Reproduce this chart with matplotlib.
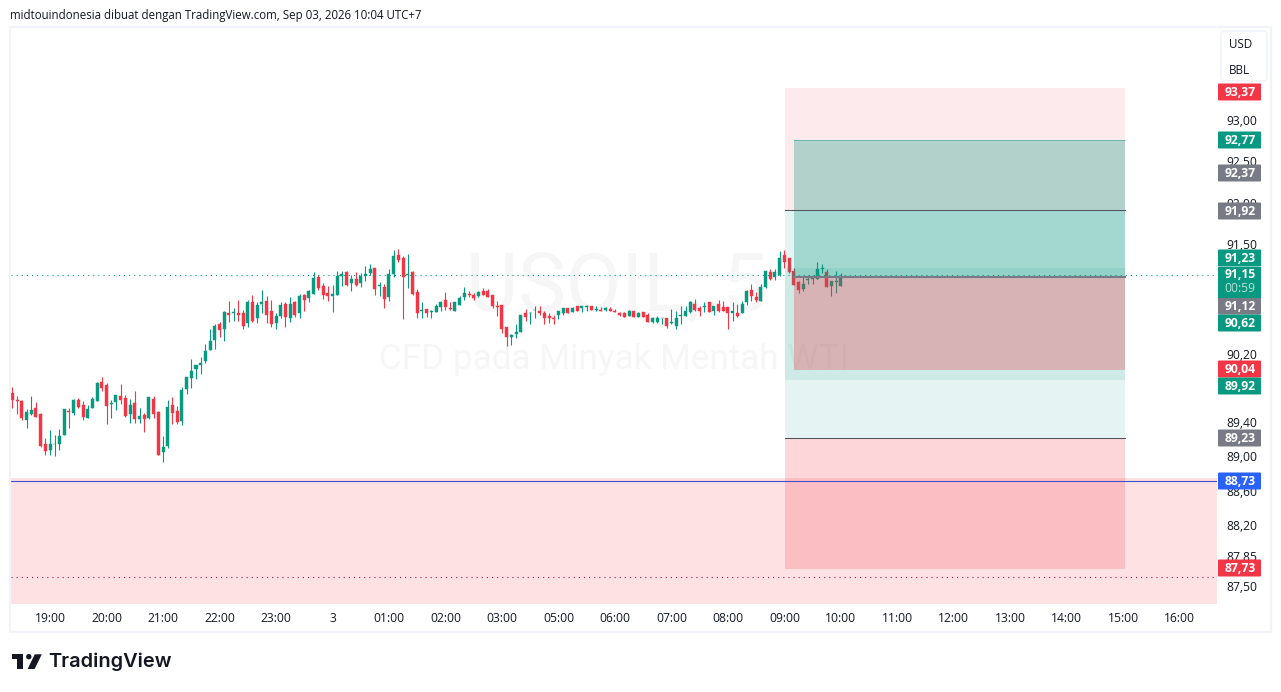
import matplotlib
matplotlib.use("Agg")
import matplotlib.pyplot as plt
from matplotlib.patches import Rectangle, FancyBboxPatch, Polygon, Circle
from matplotlib.ticker import FixedLocator, FixedFormatter, NullLocator
from matplotlib.transforms import ScaledTranslation

W, H = 1281, 692
UP, DOWN, GREY, BLUE = "#089981", "#F23645", "#787B86", "#2962FF"
INK = "#131722"
FONT = "Open Sans"
plt.rcParams["font.family"] = [FONT, "DejaVu Sans"]

# ---- candle data (prices, USD/BBL) ----
directions = ("RRRGGRRRGG" "GGRGRRGGGR" "RGGRRGRGRG" "RRGGRRGGGG" "GGGGRGRGRR"
              "GRGGRRGGRG" "RGRGGRRRGG" "GRGRGGGRGR" "GGRRGRRGRG" "GGRRGGGRRG"
              "RRRRRRGGGR" "GGRRRRGGRG" "RGGRGRGRRR" "RGRGRRGGGR" "GGGGGRRGRG"
              "RRRGRGGRRG" "GRGGRRRRGG" "GGGRGGG")
highs = [
    89.82,89.72,89.67,89.56,89.72,89.65,89.52,89.23,89.32,89.26,
    89.33,89.56,89.58,89.68,89.69,89.66,89.61,89.71,89.88,89.94,
    89.87,89.67,89.73,89.86,89.73,89.68,89.77,89.58,89.52,89.71,
    89.72,89.54,89.25,89.67,89.71,89.60,89.82,89.94,90.15,90.08,
    90.17,90.33,90.51,90.57,90.59,90.72,90.84,90.76,90.85,90.73,
    90.85,90.91,90.82,90.97,90.90,90.85,90.70,90.83,90.82,90.89,
    90.84,90.92,90.92,90.97,91.18,91.15,91.05,91.02,91.03,91.19,
    91.20,91.19,91.15,91.18,91.17,91.25,91.28,91.23,91.06,91.04,
    91.22,91.45,91.46,91.37,91.40,91.20,90.98,90.83,90.74,90.73,
    90.80,90.84,90.95,90.83,90.83,90.90,91.00,90.96,90.93,90.96,
    90.99,90.98,90.91,90.84,90.79,90.53,90.45,90.57,90.67,90.74,
    90.71,90.78,90.78,90.72,90.69,90.67,90.72,90.76,90.76,90.77,
    90.78,90.78,90.79,90.78,90.78,90.77,90.77,90.77,90.74,90.71,
    90.71,90.73,90.72,90.71,90.71,90.69,90.65,90.66,90.64,90.63,
    90.74,90.72,90.78,90.78,90.84,90.86,90.78,90.82,90.83,90.78,
    90.85,90.84,90.77,90.83,90.80,90.84,90.97,91.04,90.95,91.04,
    91.20,91.22,91.22,91.43,91.44,91.35,91.23,91.07,91.12,91.15,
    91.15,91.30,91.28,91.22,91.07,91.19,91.17]
body_tops = [
    89.75,89.67,89.66,89.53,89.55,89.58,89.51,89.16,89.15,89.16,
    89.25,89.56,89.54,89.67,89.67,89.61,89.56,89.68,89.87,89.88,
    89.85,89.64,89.73,89.72,89.69,89.61,89.64,89.48,89.49,89.71,
    89.68,89.53,89.12,89.59,89.61,89.54,89.79,89.94,90.01,90.08,
    90.10,90.25,90.36,90.54,90.57,90.71,90.69,90.71,90.69,90.69,
    90.82,90.83,90.79,90.82,90.84,90.72,90.66,90.79,90.80,90.80,
    90.83,90.90,90.91,90.96,91.11,91.12,91.02,90.93,90.92,91.13,
    91.16,91.18,91.10,91.10,91.13,91.16,91.22,91.23,91.03,91.00,
    91.16,91.37,91.38,91.35,91.16,91.18,90.95,90.73,90.74,90.72,
    90.78,90.83,90.85,90.76,90.82,90.87,90.93,90.92,90.91,90.95,
    90.96,90.96,90.91,90.78,90.79,90.53,90.43,90.47,90.67,90.70,
    90.70,90.73,90.72,90.70,90.66,90.63,90.72,90.76,90.75,90.76,
    90.78,90.78,90.78,90.78,90.74,90.73,90.76,90.74,90.72,90.70,
    90.70,90.72,90.72,90.69,90.71,90.67,90.64,90.64,90.64,90.63,
    90.59,90.63,90.67,90.72,90.82,90.80,90.76,90.78,90.83,90.78,
    90.80,90.77,90.77,90.72,90.70,90.80,90.96,90.97,90.89,91.00,
    91.20,91.18,91.18,91.35,91.38,91.35,91.19,91.06,91.04,91.10,
    91.12,91.22,91.23,91.18,91.07,91.07,91.13]
body_bottoms = [
    89.67,89.66,89.46,89.43,89.51,89.47,89.13,89.07,89.09,89.15,
    89.16,89.26,89.53,89.52,89.59,89.47,89.46,89.58,89.66,89.81,
    89.60,89.62,89.65,89.67,89.48,89.51,89.45,89.45,89.45,89.46,
    89.51,89.03,89.06,89.13,89.52,89.41,89.42,89.80,89.93,90.03,
    90.08,90.13,90.26,90.38,90.49,90.51,90.67,90.70,90.67,90.54,
    90.58,90.60,90.63,90.80,90.67,90.56,90.58,90.66,90.65,90.64,
    90.67,90.69,90.85,90.87,90.92,90.99,90.91,90.90,90.90,90.91,
    91.13,91.03,91.05,91.03,91.05,91.13,91.17,90.98,91.02,90.86,
    90.89,91.16,91.32,91.12,91.15,90.92,90.69,90.72,90.69,90.71,
    90.71,90.77,90.77,90.74,90.72,90.79,90.89,90.91,90.87,90.90,
    90.91,90.89,90.78,90.77,90.51,90.41,90.41,90.45,90.47,90.65,
    90.69,90.73,90.69,90.64,90.63,90.62,90.67,90.70,90.70,90.71,
    90.72,90.75,90.77,90.73,90.73,90.72,90.73,90.72,90.71,90.67,
    90.65,90.66,90.65,90.65,90.65,90.59,90.59,90.59,90.63,90.54,
    90.58,90.54,90.66,90.66,90.71,90.73,90.72,90.77,90.71,90.72,
    90.72,90.72,90.70,90.70,90.66,90.70,90.82,90.90,90.85,90.84,
    91.00,91.10,91.12,91.15,91.30,91.18,91.03,90.97,90.98,91.09,
    91.10,91.10,91.22,91.00,91.02,91.06,91.02]
lows = [
    89.58,89.51,89.43,89.34,89.49,89.47,89.12,89.03,89.03,89.02,
    89.09,89.26,89.34,89.49,89.58,89.43,89.46,89.58,89.66,89.78,
    89.39,89.46,89.55,89.62,89.47,89.40,89.40,89.40,89.29,89.45,
    89.46,89.03,88.95,89.11,89.39,89.39,89.38,89.74,89.81,89.92,
    89.98,90.10,90.26,90.27,90.41,90.36,90.59,90.60,90.60,90.51,
    90.53,90.59,90.58,90.69,90.58,90.53,90.51,90.64,90.53,90.59,
    90.65,90.64,90.72,90.83,90.92,90.97,90.86,90.84,90.71,90.91,
    91.02,91.02,90.96,91.02,91.00,91.07,91.15,90.91,90.90,90.76,
    90.84,91.12,91.30,90.62,90.99,90.91,90.63,90.64,90.65,90.63,
    90.71,90.72,90.73,90.73,90.72,90.79,90.85,90.89,90.85,90.89,
    90.91,90.89,90.76,90.66,90.46,90.30,90.32,90.40,90.47,90.60,
    90.56,90.64,90.67,90.57,90.58,90.57,90.62,90.67,90.69,90.71,
    90.72,90.71,90.72,90.73,90.72,90.72,90.72,90.72,90.71,90.66,
    90.65,90.66,90.65,90.65,90.65,90.59,90.58,90.58,90.57,90.52,
    90.57,90.50,90.56,90.66,90.70,90.72,90.66,90.71,90.71,90.67,
    90.71,90.72,90.51,90.60,90.65,90.70,90.79,90.84,90.83,90.84,
    90.99,91.09,91.09,91.13,91.23,91.17,91.03,90.93,90.96,91.04,
    91.04,91.10,91.17,91.00,90.90,90.93,91.02]

# ---- axis labels ----
time_ticks = [8, 20, 32, 44, 56, 68, 80, 92, 104, 116, 128, 140, 152, 164, 176,
              188, 200, 212, 224, 236, 248]
time_labels = ["19:00", "20:00", "21:00", "22:00", "23:00", "3", "01:00", "02:00",
               "03:00", "05:00", "06:00", "07:00", "08:00", "09:00", "10:00",
               "11:00", "12:00", "13:00", "14:00", "15:00", "16:00"]
price_ticks = [93.0, 92.5, 92.0, 91.5, 90.2, 89.4, 89.0, 88.6, 88.2, 87.85, 87.5]
price_labels = ["93,00", "92,50", "92,00", "91,50", "90,20", "89,40", "89,00",
                "88,60", "88,20", "87,85", "87,50"]

# ---- drawing-tool levels ----
last_price = 91.15
short_stop, short_entry, short_target = 93.40, 91.92, 89.91
long_a_target, long_a_entry, long_a_stop = 92.77, 91.12, 90.02
long_b_target, long_b_entry, long_b_stop = 91.23, 89.23, 87.71
zone_top, zone_line, zone_dotted = 88.76, 88.73, 87.62
tool_start, tool_a_start, tool_end = 164.1, 166.0, 236.3

# ---- price tags on the axis ----
tag_texts = ["93,37", "92,77", "92,37", "91,92", "91,23", "91,12", "90,62",
             "90,04", "89,92", "89,23", "88,73", "87,73"]
tag_colors = [DOWN, UP, GREY, GREY, UP, GREY, UP, DOWN, UP, GREY, BLUE, DOWN]
tag_centers = [92, 140, 173, 211, 258, 306, 323, 369, 386, 438, 481, 568]

fig = plt.figure(figsize=(W / 100, H / 100), dpi=100, facecolor="white")
def rect_axes(l, t, r, b, **kw):
    return fig.add_axes([l / W, 1 - b / H, (r - l) / W, (b - t) / H], **kw)

# price pane
ax = rect_axes(11, 27, 1217, 604)
ax.set_yscale("log")
ax.set_ylim(87.31, 94.15)
ax.set_xlim(-0.30, 255.9)
for s in ax.spines.values():
    s.set_visible(False)
ax.yaxis.tick_right()
ax.yaxis.set_major_locator(FixedLocator(price_ticks))
ax.yaxis.set_major_formatter(FixedFormatter(price_labels))
ax.yaxis.set_minor_locator(NullLocator())
ax.xaxis.set_major_locator(FixedLocator(time_ticks))
ax.xaxis.set_major_formatter(FixedFormatter(time_labels))
ax.tick_params(axis="y", length=0, pad=6.6, labelsize=8.7, colors=INK)
ax.tick_params(axis="x", length=0, pad=5.8, labelsize=8.7, colors=INK)
for lab in ax.get_yticklabels():
    lab.set_transform(lab.get_transform() + ScaledTranslation(0, 1 / 100, fig.dpi_scale_trans))

# watermark
ax.text(0.5025, 0.546, "USOIL, 5", transform=ax.transAxes, ha="center", va="center",
        fontsize=58, color="#F6F6F7", zorder=0, family=["Roboto", "DejaVu Sans"])
ax.text(0.5, 0.424, "CFD pada Minyak Mentah WTI", transform=ax.transAxes, ha="center",
        va="center", fontsize=25.3, color="#F6F6F7", zorder=0, family=["Roboto", "DejaVu Sans"])

# candles
for i, d in enumerate(directions):
    c = UP if d == "G" else DOWN
    ax.plot([i, i], [lows[i], highs[i]], color=c, lw=0.8, solid_capstyle="butt", zorder=2)
    top, bot = body_tops[i], body_bottoms[i]
    ax.bar(i, top - bot, bottom=bot, width=0.64, color=c, edgecolor=c, linewidth=0.3, zorder=3)

ax.axhline(last_price, color=UP, lw=0.8, ls=(0, (1, 3.6)), zorder=4)

def zone(x0, x1, p0, p1, color, alpha, z=5):
    ax.add_patch(Rectangle((x0, p0), x1 - x0, p1 - p0, facecolor=color, alpha=alpha,
                           edgecolor="none", zorder=z))

# bottom zone
ax.axhspan(87.0, zone_top, facecolor=DOWN, alpha=0.15, edgecolor="none", zorder=1)
ax.axhline(zone_line, color="#3F51C8", lw=0.8, zorder=8)
ax.axhline(zone_dotted, color="#B0125B", lw=0.8, ls=(0, (1, 3.6)), zorder=4)

# short position
zone(tool_start, tool_end, short_entry, short_stop, DOWN, 0.10)
zone(tool_start, tool_end, short_target, short_entry, UP, 0.10)
ax.plot([tool_start, tool_end], [short_entry] * 2, color="#50535E", lw=0.75, zorder=7)
# long position B
zone(tool_start, tool_end, long_b_entry, long_b_target, UP, 0.10)
zone(tool_start, tool_end, long_b_stop, long_b_entry, DOWN, 0.20)
ax.plot([tool_start, tool_end], [long_b_entry] * 2, color="#50535E", lw=0.75, zorder=7)
# long position A
zone(tool_a_start, tool_end, long_a_entry, long_a_target, UP, 0.30)
zone(tool_a_start, tool_end, long_a_stop, long_a_entry, DOWN, 0.30)
ax.plot([tool_a_start, tool_end], [long_a_target] * 2, color=UP, lw=0.6, alpha=0.5, zorder=7)
ax.plot([tool_a_start, tool_end], [long_a_entry] * 2, color=GREY, lw=1.5, zorder=7)

# overlay in pixels for the page furniture
ov = fig.add_axes([0, 0, 1, 1], facecolor="none")
ov.set_xlim(0, W)
ov.set_ylim(H, 0)
ov.axis("off")
ov.add_patch(Rectangle((10, 26.5), 1261, 605.5, facecolor="none", edgecolor="#F0F3FA", lw=1.6))

for t, c, y in zip(tag_texts, tag_colors, tag_centers):
    ov.add_patch(FancyBboxPatch((1218, y - 8.5), 43, 17, boxstyle="round,pad=0,rounding_size=1",
                                facecolor=c, edgecolor="none", zorder=5))
    ov.text(1240, y + 0.2, t, color="white", ha="center", va="center", fontsize=8.7,
            fontweight="bold", zorder=6)
# last-price tag with countdown
ov.add_patch(Rectangle((1218, 266.5), 43, 31.5, facecolor=UP, edgecolor="none", zorder=5))
ov.text(1240, 274.7, "91,15", color="white", ha="center", va="center", fontsize=8.7,
        fontweight="bold", zorder=6)
ov.text(1240, 289, "00:59", color="#B9E2DB", ha="center", va="center", fontsize=8.7, zorder=6)

# currency/unit button
ov.add_patch(FancyBboxPatch((1221, 31), 46, 50, boxstyle="round,pad=0,rounding_size=4",
                            facecolor="white", edgecolor="#F0F3FA", lw=1.2, zorder=7))
ov.text(1240.5, 44.2, "USD", color=INK, ha="center", va="center", fontsize=8.4, zorder=8)
ov.text(1239.5, 70.2, "BBL", color=INK, ha="center", va="center", fontsize=8.4, zorder=8)

# header
ov.text(10, 15.3, "midtouindonesia dibuat dengan TradingView.com, Sep 03, 2026 10:04 UTC+7",
        color=INK, ha="left", va="center", fontsize=8.3)

# logo
ov.add_patch(Polygon([(12.3, 654.3), (22.7, 654.3), (22.7, 669), (16.9, 669), (16.9, 659), (12.3, 659)],
                     facecolor=INK, edgecolor="none"))
ov.add_patch(Circle((28.8, 656.7), 2.7, facecolor=INK, edgecolor="none"))
ov.add_patch(Polygon([(34.8, 654.3), (41.8, 654.3), (34.6, 669), (27.6, 669)], facecolor=INK, edgecolor="none"))
ov.text(48.5, 662, "TradingView", color=INK, ha="left", va="center", fontsize=14.4,
        fontweight="semibold", family=["Inter", "DejaVu Sans"])

fig.savefig("out.png", dpi=100, facecolor="white")
